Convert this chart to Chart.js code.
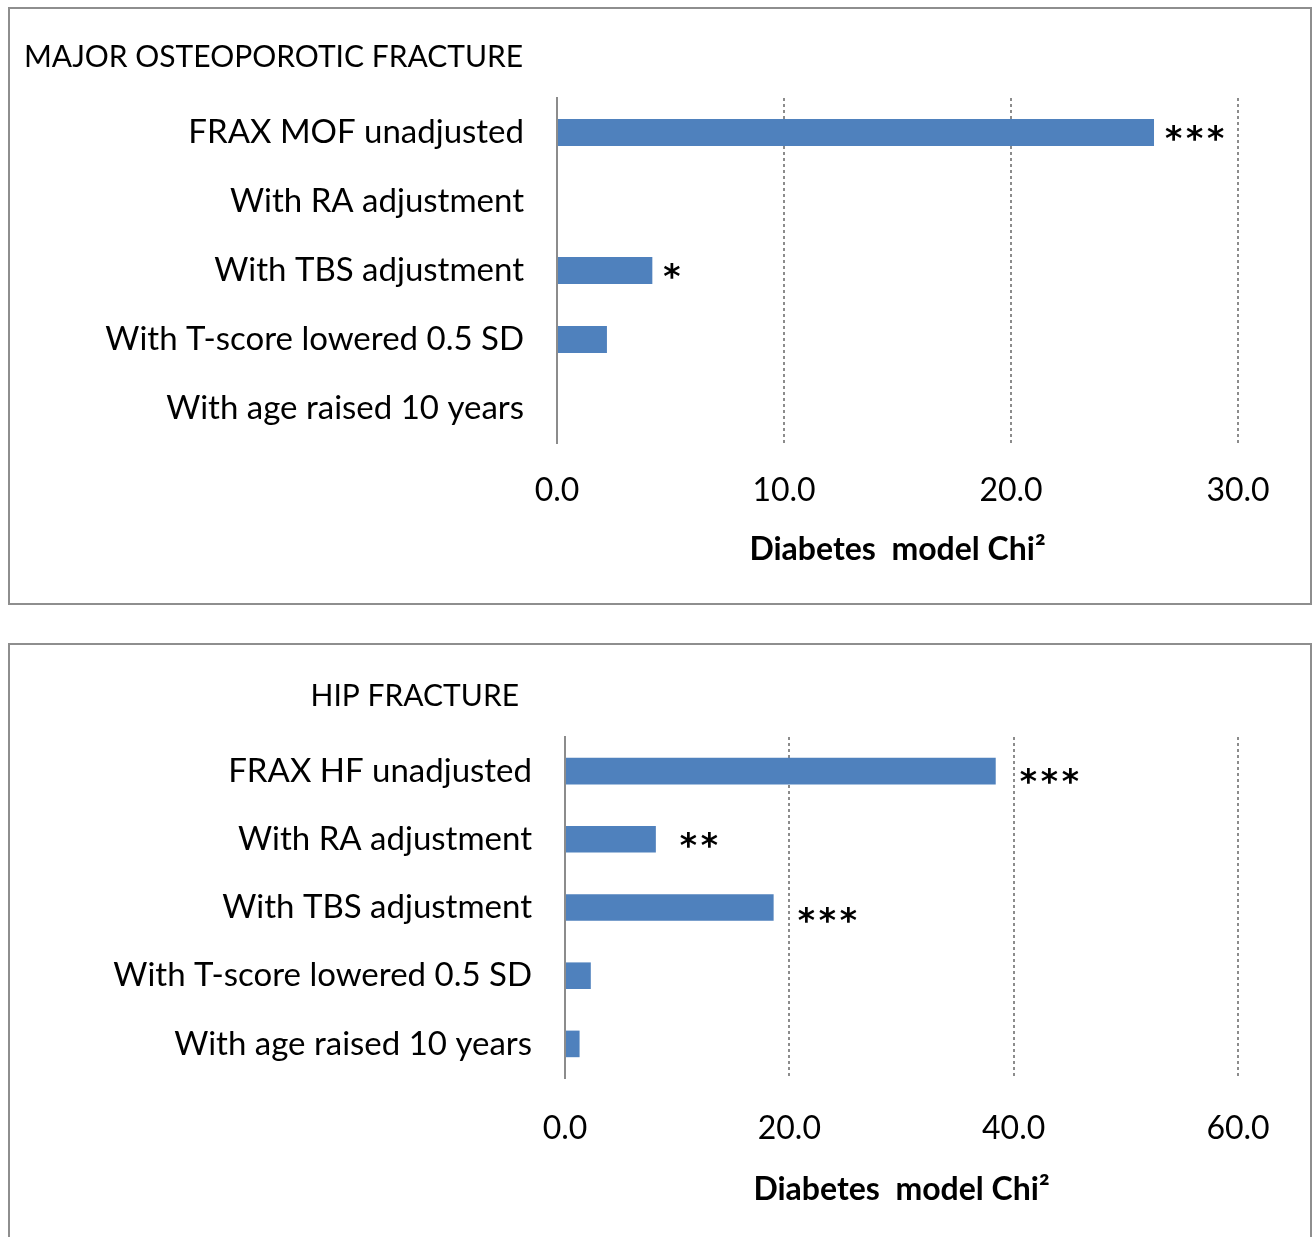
<!DOCTYPE html>
<html>
<head>
<meta charset="utf-8">
<script src="https://cdn.jsdelivr.net/npm/chart.js@4.4.1/dist/chart.umd.min.js"></script>
<style>
    html, body { margin: 0; padding: 0; background: #fff; overflow: hidden; }
    body { width: 1316px; height: 1237px; position: relative; }
    .panel {
        position: absolute;
        left: 8px;
        width: 1304px;
        border: 2px solid #8e8e8e;
        box-sizing: border-box;
        background: #fff;
    }
    #panelMof { top: 7px; height: 598px; }
    #panelHip { top: 643px; height: 602px; }
    .panel canvas { display: block; }
</style>
</head>
<body>
<div class="panel" id="panelMof"><canvas id="chartMof"></canvas></div>
<div class="panel" id="panelHip"><canvas id="chartHip"></canvas></div>

<script>
// Data
const mofCategories = ['FRAX MOF unadjusted', 'With RA adjustment', 'With TBS adjustment', 'With T-score lowered 0.5 SD', 'With age raised 10 years'];
const mofValues = [26.3, 0, 4.2, 2.2, 0];
const mofStars = ['***', '', '*', '', ''];
const mofTicks = [0, 10, 20, 30];

const hipCategories = ['FRAX HF unadjusted', 'With RA adjustment', 'With TBS adjustment', 'With T-score lowered 0.5 SD', 'With age raised 10 years'];
const hipValues = [38.4, 8.1, 18.6, 2.3, 1.3];
const hipStars = ['***', '**', '***', '', ''];
const hipTicks = [0, 20, 40, 60];

const axisTitle = 'Diabetes  model Chi\u00B2';
const FONT = 'Lato, "Open Sans", sans-serif';
const STAR_FONT = '"DejaVu Sans", sans-serif';
const BAR_COLOR = '#4F81BD';
const GRID_COLOR = '#8c8c8c';

// Draws the panel title and the significance stars
const annotate = {
    id: 'annotate',
    afterDatasetsDraw(chart, args, opts) {
        const ctx = chart.ctx;
        const x = chart.scales.x;
        const y = chart.scales.y;
        ctx.save();
        ctx.fillStyle = '#000';
        ctx.textBaseline = 'middle';

        ctx.font = `30px ${FONT}`;
        ctx.textAlign = opts.titleAlign;
        ctx.fillText(opts.title, opts.titleX, opts.titleY);

        // asterisks one by one, fixed pitch
        ctx.font = `bold 33px ${STAR_FONT}`;
        ctx.textAlign = 'left';
        ctx.textBaseline = 'alphabetic';
        const values = chart.data.datasets[0].data;
        opts.stars.forEach((s, i) => {
            if (!s) return;
            const px = x.getPixelForValue(values[i]) + opts.starGap;
            const py = y.getPixelForValue(i) + opts.starDy[i] + 17;
            for (let k = 0; k < s.length; k++) {
                ctx.fillText('*', px + k * 21, py);
            }
        });
        ctx.restore();
    }
};

function makeChart(canvasId, categories, values, stars, ticks, cfg) {
    const canvas = document.getElementById(canvasId);
    canvas.width = 1300;
    canvas.height = cfg.height;
    canvas.style.width = '1300px';
    canvas.style.height = cfg.height + 'px';

    return new Chart(canvas, {
        type: 'bar',
        data: {
            labels: categories,
            datasets: [{
                data: values,
                backgroundColor: BAR_COLOR,
                borderWidth: 0,
                barPercentage: 0.39,
                categoryPercentage: 1
            }]
        },
        plugins: [annotate],
        options: {
            indexAxis: 'y',
            responsive: false,
            animation: false,
            layout: { padding: { top: cfg.top, right: 72, bottom: 0, left: 0 } },
            plugins: {
                legend: { display: false },
                tooltip: { enabled: false },
                annotate: {
                    title: cfg.title,
                    titleX: cfg.titleX,
                    titleY: cfg.titleY,
                    titleAlign: cfg.titleAlign,
                    stars: stars,
                    starGap: cfg.starGap,
                    starDy: cfg.starDy
                }
            },
            scales: {
                x: {
                    min: ticks[0],
                    max: ticks[ticks.length - 1],
                    afterBuildTicks(scale) {
                        scale.ticks = ticks.map(v => ({ value: v }));
                    },
                    afterFit(scale) { scale.height = cfg.xHeight; },
                    ticks: {
                        color: '#000',
                        font: { family: FONT, size: 32 },
                        padding: cfg.tickPad,
                        callback: v => Number(v).toFixed(1)
                    },
                    grid: {
                        drawTicks: false,
                        color: ctx => ctx.tick && ctx.tick.value === 0 ? 'rgba(0,0,0,0)' : GRID_COLOR,
                        lineWidth: 2
                    },
                    // in v4 the dash of the grid lines comes from border.dash
                    border: { display: false, dash: [3, 3] },
                    title: {
                        display: true,
                        text: axisTitle,
                        color: '#000',
                        font: { family: FONT, size: 32, weight: 'bold' },
                        padding: { top: 0, bottom: 34 }
                    }
                },
                y: {
                    afterFit(scale) { scale.width = cfg.yWidth; },
                    ticks: {
                        color: '#000',
                        font: { family: FONT, size: 33 },
                        padding: 33
                    },
                    grid: { display: false, drawTicks: false },
                    border: { display: true, color: GRID_COLOR, width: 2 }
                }
            }
        }
    });
}

const mofChart = makeChart('chartMof', mofCategories, mofValues, mofStars, mofTicks, {
    height: 594, top: 89, xHeight: 160, yWidth: 547, tickPad: 28,
    title: 'MAJOR OSTEOPOROTIC FRACTURE', titleX: 14, titleY: 48, titleAlign: 'left',
    starGap: 11, starDy: [0, 0, 0, 0, 0]
});

const hipChart = makeChart('chartHip', hipCategories, hipValues, hipStars, hipTicks, {
    height: 598, top: 92, xHeight: 165, yWidth: 555, tickPad: 31,
    title: 'HIP FRACTURE', titleX: 509, titleY: 51, titleAlign: 'right',
    starGap: 24, starDy: [5, 1, 7, 0, 0]
});
</script>
</body>
</html>
